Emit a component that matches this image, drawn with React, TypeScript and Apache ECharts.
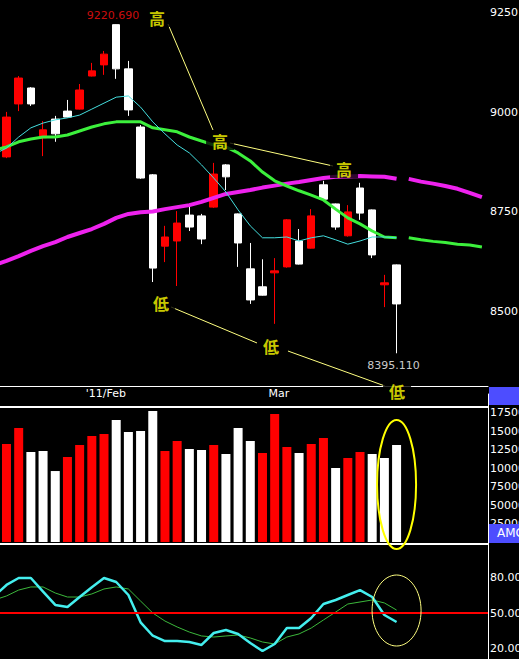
import React, { useEffect, useRef } from 'react';
import * as echarts from 'echarts';

// ---- layout constants (slot grid) ----
const SLOT_COUNT = 41; // slot 0 is a hidden lead-in slot, candles are slots 1..33, slots 34..40 are the forward MA area
const SLOT_W = 12.19;
const PLOT_RIGHT = 488;
const PLOT_LEFT = PLOT_RIGHT - SLOT_COUNT * SLOT_W;

// ---- candle data (slots 1..33) ----
const candleOpen = [8888, 9021, 9061, 8936, 8983, 9003, 9008, 9091, 9119, 9220, 9109, 8963, 8843, 8664, 8677, 8742, 8740, 8762, 8868, 8745, 8607, 8562, 8597, 8612, 8677, 8659, 8818, 8770, 8690, 8810, 8755, 8567, 8617];
const candleClose = [8988, 9086, 9021, 8956, 8946, 8988, 9056, 9104, 9146, 9109, 9006, 8835, 8609, 8687, 8722, 8712, 8682, 8845, 8838, 8672, 8529, 8541, 8602, 8730, 8619, 8740, 8782, 8712, 8750, 8747, 8642, 8572, 8519];
const candleLow = [8885, 9003, 9016, 8890, 8926, 8987, 9007, 9090, 9094, 9084, 8991, 8833, 8574, 8624, 8564, 8702, 8669, 8760, 8805, 8612, 8519, 8540, 8469, 8610, 8618, 8658, 8781, 8705, 8688, 8730, 8634, 8511, 8395.11];
const candleHigh = [9001, 9091, 9063, 8978, 8991, 9031, 9071, 9124, 9154, 9220.69, 9129, 8968, 8845, 8715, 8752, 8765, 8745, 8873, 8870, 8746, 8672, 8631, 8634, 8732, 8707, 8757, 8828, 8771, 8767, 8823, 8756, 8592, 8618];

// ---- moving averages (slots 0..33, forward part slots 34..40) ----
const maShort = [8895, 8910, 8938, 8961, 8973, 8981, 8986, 8993, 9008, 9023, 9038, 9041, 9013, 8976, 8946, 8918, 8898, 8868, 8835, 8800, 8755, 8715, 8685, 8685, 8687, 8677, 8685, 8690, 8680, 8669, 8677, 8687, 8687, 8685];
const maMid = [8905, 8913, 8926, 8933, 8938, 8938, 8943, 8953, 8963, 8971, 8976, 8976, 8976, 8961, 8956, 8951, 8938, 8928, 8918, 8913, 8898, 8878, 8850, 8828, 8815, 8803, 8792, 8780, 8757, 8735, 8720, 8702, 8687, 8685];
const maMidForward = [8685, 8680, 8676, 8673, 8669, 8667, 8662];
const maLong = [8617, 8627, 8639, 8652, 8664, 8674, 8687, 8697, 8707, 8720, 8735, 8745, 8749, 8751, 8757, 8762, 8767, 8775, 8785, 8795, 8800, 8805, 8811, 8816, 8821, 8825, 8830, 8835, 8838, 8839, 8840, 8839, 8838, 8833];
const maLongForward = [8833, 8826, 8821, 8815, 8808, 8798, 8787];

// ---- volume (slots 1..33) ----
const volume = [132400, 154100, 121600, 123000, 95900, 114900, 131100, 143200, 145900, 164900, 148700, 150000, 177000, 123000, 136500, 125700, 124300, 131100, 118900, 154100, 136500, 120300, 173000, 128400, 120300, 132400, 140500, 100000, 113500, 121600, 118900, 113500, 131100];
const volumeDir = ['u', 'u', 'd', 'd', 'd', 'u', 'u', 'u', 'u', 'd', 'd', 'd', 'd', 'u', 'u', 'd', 'd', 'u', 'd', 'd', 'd', 'u', 'u', 'u', 'd', 'u', 'u', 'd', 'u', 'u', 'd', 'd', 'd'];

// ---- oscillator (slots 0..33) ----
const oscMain = [64.4, 73.7, 79.6, 79.6, 68, 56.8, 55.1, 63.5, 71.8, 79.6, 76.2, 65.2, 42.1, 30.8, 26.3, 26.3, 25.5, 23, 33.1, 35.6, 32.3, 24.7, 17.9, 23.8, 37.3, 37.3, 45.8, 57.6, 61, 65.2, 69.4, 63.5, 48.3, 42.4];
const oscSignal = [61, 64.4, 69.4, 72, 72, 66.9, 63.5, 63.5, 66.1, 70.3, 72, 70.3, 60.1, 50, 43.2, 38.2, 33.9, 30.6, 29.7, 30.6, 31.4, 28.9, 25.5, 23.8, 29.7, 32.3, 37.3, 44.1, 50.8, 57.6, 59.3, 61, 58.5, 52.5];
const oscLevel = 50;

// ---- tick labels ----
const priceTicks = [8500, 8750, 9000, 9250];
const volumeTicks = [25000, 50000, 75000, 100000, 125000, 150000, 175000];
const oscTicks = [20, 50, 80];
const monthTicks = [{ slot: 8, label: "'11/Feb" }, { slot: 23, label: 'Mar' }];

// ---- annotations (slot, price) ----
const markTexts = [
  { text: '高', slot: 13.35, price: 9236.7 },
  { text: '高', slot: 18.52, price: 8928 },
  { text: '高', slot: 28.69, price: 8857.7 },
  { text: '低', slot: 13.68, price: 8521.3 },
  { text: '低', slot: 22.7, price: 8413.4 },
  { text: '低', slot: 33.04, price: 8300.4 },
];
const connectors = [
  [14.25, 9221.6, 17.94, 8955.6],
  [19.34, 8922.9, 27.79, 8865.2],
  [14.5, 8511.3, 21.55, 8421],
  [24.09, 8400.8, 32.05, 8313],
];
const priceNotes = [
  { text: '9220.690', slot: 9.74, price: 9244.2, color: '#ff1010' },
  { text: '8395.110', slot: 32.75, price: 8365.7, color: '#ffffff' },
];
const volEllipse = { slot: 33, value: 77700, rx: 19.5, ry: 64.5 };
const oscEllipse = { slot: 33, value: 52.1, rx: 24.5, ry: 35.5 };

const FONT = 'DejaVu Sans';

export default function App() {
  const ref = useRef<HTMLDivElement>(null);

  useEffect(() => {
    const chart = echarts.init(ref.current!, null, { renderer: 'svg' });
    const slots = Array.from({ length: SLOT_COUNT }, (_, i) => String(i));
    const boundaries = Array.from({ length: SLOT_COUNT + 1 }, (_, i) => String(i));
    const monthMap: Record<string, string> = {};
    monthTicks.forEach((m) => (monthMap[String(m.slot)] = m.label));

    const empty = ['-', '-', '-', '-'];
    const candleData: any[] = [empty];
    for (let i = 0; i < candleOpen.length; i++) {
      candleData.push([candleOpen[i], candleClose[i], candleLow[i], candleHigh[i]]);
    }
    const histLen = maMid.length;
    const padHist = Array(histLen).fill('-');
    const volData: any[] = ['-'];
    volume.forEach((v, i) =>
      volData.push({ value: v, itemStyle: { color: volumeDir[i] === 'u' ? '#ff0000' : '#ffffff' } })
    );

    const labelStyle = { color: '#ffffff', fontSize: 11, fontFamily: FONT, margin: 2 };
    const gridBase = { left: PLOT_LEFT, width: SLOT_COUNT * SLOT_W, containLabel: false, outerBoundsMode: 'none' };

    const option: any = {
      animation: false,
      backgroundColor: '#000000',
      textStyle: { fontFamily: FONT },
      grid: [
        { ...gridBase, top: -86.9, height: 498 },
        { ...gridBase, top: 394, height: 148 },
        { ...gridBase, top: 542, height: 142 },
      ],
      xAxis: [
        { type: 'category', gridIndex: 0, data: slots, show: false, position: 'bottom' },
        { type: 'value', gridIndex: 0, min: -0.5, max: SLOT_COUNT - 0.5, show: false, position: 'top' },
        {
          type: 'category', gridIndex: 0, data: boundaries, boundaryGap: false, position: 'bottom', offset: -24.6,
          axisLine: { show: true, lineStyle: { color: '#ffffff', width: 1 } },
          axisTick: { show: false },
          axisLabel: { interval: 0, align: 'left', margin: 1, color: '#ffffff', fontSize: 11, fontFamily: FONT,
            formatter: (v: string) => monthMap[v] || '' },
          splitLine: { show: false },
        },
        { type: 'category', gridIndex: 1, data: slots, show: false },
        { type: 'category', gridIndex: 2, data: slots, show: false },
      ],
      yAxis: [
        {
          type: 'value', gridIndex: 0, position: 'right', min: 8250, max: 9500, interval: 250,
          axisLine: { show: true, lineStyle: { color: '#ffffff', width: 1 } },
          axisTick: { show: false }, splitLine: { show: false },
          axisLabel: { ...labelStyle, formatter: (v: number) => (priceTicks.includes(v) ? String(v) : '') },
        },
        {
          type: 'value', gridIndex: 1, position: 'right', min: 0, max: 200000, interval: 25000,
          axisLine: { show: true, lineStyle: { color: '#ffffff', width: 1 } },
          axisTick: { show: false }, splitLine: { show: false },
          axisLabel: { ...labelStyle, formatter: (v: number) => (volumeTicks.includes(v) ? String(v) : '') },
        },
        {
          type: 'value', gridIndex: 2, position: 'right', min: -10, max: 110, interval: 30,
          axisLine: { show: true, lineStyle: { color: '#ffffff', width: 1 } },
          axisTick: { show: false }, splitLine: { show: false },
          axisLabel: { ...labelStyle, formatter: (v: number) => (oscTicks.includes(v) ? v.toFixed(2) : '') },
        },
      ],
      series: [
        {
          type: 'candlestick', xAxisIndex: 0, yAxisIndex: 0, data: candleData, barWidth: 8,
          itemStyle: { color: '#ff0000', color0: '#ffffff', borderColor: '#ff0000', borderColor0: '#ffffff', borderWidth: 1 },
        },
        { type: 'line', xAxisIndex: 0, yAxisIndex: 0, data: maLong, showSymbol: false, lineStyle: { color: '#ee22ee', width: 4 } },
        { type: 'line', xAxisIndex: 0, yAxisIndex: 0, data: padHist.concat(maLongForward), showSymbol: false, lineStyle: { color: '#ee22ee', width: 4 } },
        { type: 'line', xAxisIndex: 0, yAxisIndex: 0, data: maMid, showSymbol: false, lineStyle: { color: '#3cf03c', width: 3 } },
        { type: 'line', xAxisIndex: 0, yAxisIndex: 0, data: padHist.concat(maMidForward), showSymbol: false, lineStyle: { color: '#3cf03c', width: 3 } },
        { type: 'line', xAxisIndex: 0, yAxisIndex: 0, data: maShort, showSymbol: false, lineStyle: { color: '#44dede', width: 1 } },
        ...connectors.map((c) => ({
          type: 'line', xAxisIndex: 1, yAxisIndex: 0, data: [[c[0], c[1]], [c[2], c[3]]], showSymbol: false,
          lineStyle: { color: '#ffff80', width: 1 }, z: 5,
        })),
        {
          type: 'scatter', xAxisIndex: 1, yAxisIndex: 0, symbolSize: 0, z: 10,
          data: [
            ...markTexts.map((m) => ({
              name: m.text, value: [m.slot, m.price],
              label: { color: '#ffff00', fontSize: 16, fontWeight: 'bold', fontFamily: 'Noto Sans CJK JP',
                backgroundColor: '#000000', padding: [1, 6, 1, 6] },
            })),
            ...priceNotes.map((p) => ({
              name: p.text, value: [p.slot, p.price],
              label: { color: p.color, fontSize: 11, fontFamily: FONT },
            })),
          ],
          label: { show: true, position: 'inside', formatter: (p: any) => p.name },
        },
        { type: 'bar', xAxisIndex: 3, yAxisIndex: 1, data: volData, barWidth: 9 },
        {
          type: 'line', xAxisIndex: 4, yAxisIndex: 2, data: oscSignal, showSymbol: false,
          lineStyle: { color: '#3cb83c', width: 1 },
          markLine: {
            silent: true, symbol: ['none', 'none'], label: { show: false },
            lineStyle: { color: '#ff0000', width: 2, type: 'solid' },
            data: [{ yAxis: oscLevel }],
          },
        },
        { type: 'line', xAxisIndex: 4, yAxisIndex: 2, data: oscMain, showSymbol: false, lineStyle: { color: '#44eeee', width: 2.5 } },
      ],
    };

    chart.setOption(option);

    const ve = chart.convertToPixel({ xAxisIndex: 3, yAxisIndex: 1 } as any, [volEllipse.slot, volEllipse.value]) as number[];
    const oe = chart.convertToPixel({ xAxisIndex: 4, yAxisIndex: 2 } as any, [oscEllipse.slot, oscEllipse.value]) as number[];

    chart.setOption({
      graphic: [
        { type: 'rect', id: 'vtop', z: 50, shape: { x: 0, y: 406, width: PLOT_RIGHT, height: 2 }, style: { fill: '#ffffff' } },
        { type: 'rect', id: 'vbot', z: 50, shape: { x: 0, y: 543, width: PLOT_RIGHT, height: 2 }, style: { fill: '#ffffff' } },
        { type: 'rect', id: 'box1', z: 50, shape: { x: 489, y: 387, width: 30, height: 18 }, style: { fill: '#4d4dff' } },
        { type: 'rect', id: 'box2', z: 50, shape: { x: 489, y: 524, width: 30, height: 19 }, style: { fill: '#4d4dff' } },
        { type: 'text', id: 'amc', z: 51, x: 497, y: 533, style: { text: 'AMC', fill: '#ffffff', font: `12px "${FONT}"`, verticalAlign: 'middle' } },
        { type: 'ellipse', id: 'ev', z: 60, shape: { cx: ve[0], cy: ve[1], rx: volEllipse.rx, ry: volEllipse.ry }, style: { fill: 'none', stroke: '#ffff00', lineWidth: 2 } },
        { type: 'ellipse', id: 'eo', z: 60, shape: { cx: oe[0], cy: oe[1], rx: oscEllipse.rx, ry: oscEllipse.ry }, style: { fill: 'none', stroke: '#ffff80', lineWidth: 1 } },
      ],
    });

    return () => chart.dispose();
  }, []);

  return (
    <div
      ref={ref}
      style={{ position: 'absolute', left: 0, top: 0, width: 519, height: 659, background: '#000000' }}
    />
  );
}
